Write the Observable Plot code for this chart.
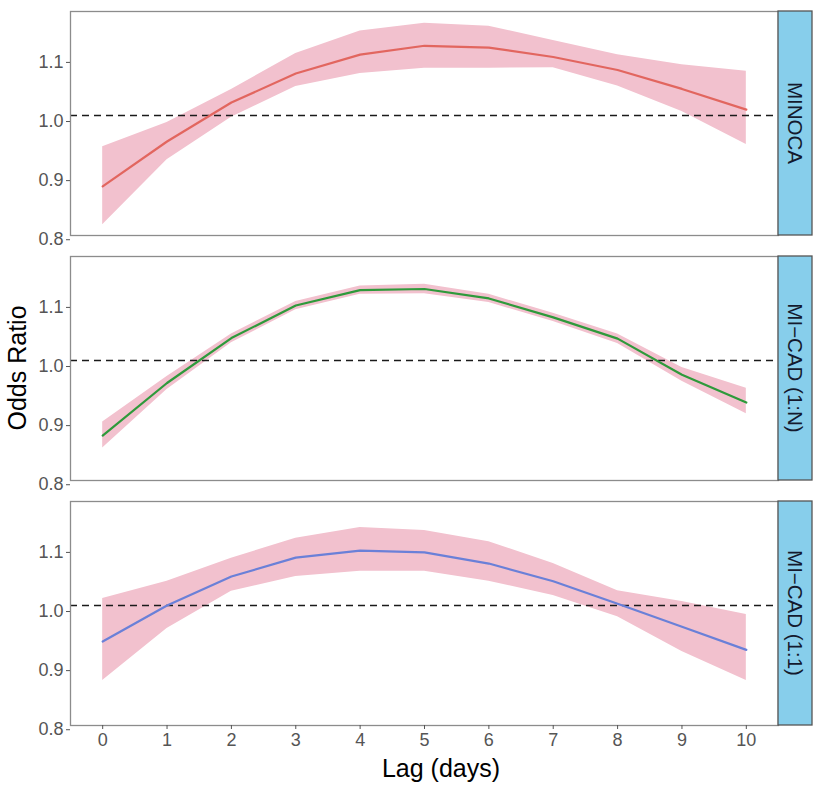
<!DOCTYPE html>
<html>
<head>
<meta charset="utf-8">
<script src="https://cdn.jsdelivr.net/npm/d3@7"></script>
<script src="https://cdn.jsdelivr.net/npm/@observablehq/plot@0.6"></script>
<style>
  body { margin: 0; background: #fff; }
  #chart svg { display: block; }
</style>
</head>
<body>
<div id="chart"></div>
<script>
// ---- data ----
const lags = [0, 1, 2, 3, 4, 5, 6, 7, 8, 9, 10];
const groups = ["MINOCA", "MI\u2212CAD (1:N)", "MI\u2212CAD (1:1)"];
const lineColors = ["#e2665f", "#2e9a3b", "#6a80d8"];
const yTicks = [0.8, 0.9, 1.0, 1.1];

const minocaOR = [0.880, 0.956, 1.022, 1.071, 1.103, 1.118, 1.115, 1.099, 1.077, 1.045, 1.010];
const minocaLo = [0.815, 0.925, 0.997, 1.049, 1.071, 1.080, 1.080, 1.081, 1.050, 1.007, 0.951];
const minocaHi = [0.947, 0.988, 1.044, 1.105, 1.143, 1.156, 1.151, 1.127, 1.103, 1.086, 1.075];

const ncadOR = [0.873, 0.962, 1.038, 1.093, 1.119, 1.121, 1.105, 1.073, 1.037, 0.976, 0.929];
const ncadLo = [0.852, 0.951, 1.030, 1.086, 1.112, 1.113, 1.098, 1.066, 1.029, 0.965, 0.910];
const ncadHi = [0.896, 0.973, 1.045, 1.100, 1.126, 1.129, 1.112, 1.080, 1.045, 0.988, 0.953];

const cad11OR = [0.939, 1.000, 1.049, 1.081, 1.093, 1.090, 1.071, 1.041, 1.003, 0.964, 0.925];
const cad11Lo = [0.873, 0.961, 1.024, 1.049, 1.058, 1.058, 1.041, 1.017, 0.981, 0.922, 0.873];
const cad11Hi = [1.012, 1.041, 1.080, 1.114, 1.132, 1.127, 1.108, 1.071, 1.025, 1.007, 0.985];

const ors = [minocaOR, ncadOR, cad11OR];
const los = [minocaLo, ncadLo, cad11Lo];
const his = [minocaHi, ncadHi, cad11Hi];

const rows = [];
groups.forEach((g, i) => lags.forEach((l, j) => rows.push({
  group: g, lag: l, or: ors[i][j], lo: los[i][j], hi: his[i][j]
})));

const font = "'Liberation Sans', Arial, Helvetica, sans-serif";

const plot = Plot.plot({
  width: 821,
  height: 785,
  marginTop: 10,
  marginBottom: 58,
  marginLeft: 70,
  marginRight: 43,
  style: { fontFamily: font, background: "#fff", overflow: "visible" },
  x: { domain: [-0.5, 10.5], label: null },
  y: { domain: [0.797, 1.176], label: null },
  fy: { domain: groups, paddingInner: 0.085, paddingOuter: 0, axis: null, label: null },
  color: { domain: groups, range: lineColors },
  marks: [
    Plot.areaY(rows, { x: "lag", y1: "lo", y2: "hi", fy: "group", fill: "#f2c1ce" }),
    Plot.ruleY([1], { stroke: "#1a1a1a", strokeWidth: 1.6, strokeDasharray: "7,5" }),
    Plot.lineY(rows, { x: "lag", y: "or", fy: "group", stroke: "group", strokeWidth: 2.2 }),
    Plot.frame({ stroke: "#8c8c8c", strokeWidth: 1.3 }),
    Plot.axisY({ ticks: yTicks, tickFormat: d3.format(".1f"), tickSize: 4, tickPadding: 3,
      fontSize: 18, color: "#555", dy: 6, label: null }),
    Plot.axisX({ ticks: lags, tickFormat: d3.format("d"), tickSize: 4, tickPadding: 4,
      fontSize: 18, color: "#555", label: null })
  ]
});

document.getElementById("chart").appendChild(plot);

// facet strips on the right, positioned from the plot's own scales
const svg = d3.select(plot);
const fy = plot.scale("fy");
const xs = plot.scale("x");
const stripX = xs.apply(10.5);
const stripW = 34;
const bw = fy.bandwidth;
const strips = svg.append("g");
groups.forEach(g => {
  const y0 = fy.apply(g);
  strips.append("rect")
    .attr("x", stripX).attr("y", y0)
    .attr("width", stripW).attr("height", bw)
    .attr("fill", "#87ceeb").attr("stroke", "#555").attr("stroke-width", 1.3);
  strips.append("text")
    .attr("transform", `translate(${stripX + stripW / 2},${y0 + bw / 2}) rotate(90)`)
    .attr("text-anchor", "middle").attr("dy", "0.36em")
    .attr("font-family", font).attr("font-size", 20.5).attr("fill", "#141a2e")
    .text(g);
});

// axis titles
const yTop = fy.apply(groups[0]);
const yBot = fy.apply(groups[groups.length - 1]) + bw;
svg.append("text")
  .attr("transform", `translate(26,${(yTop + yBot) / 2}) rotate(-90)`)
  .attr("text-anchor", "middle")
  .attr("font-family", font).attr("font-size", 25).attr("fill", "#000")
  .text("Odds Ratio");
svg.append("text")
  .attr("x", (xs.apply(-0.5) + xs.apply(10.5)) / 2 + 17).attr("y", 777)
  .attr("text-anchor", "middle")
  .attr("font-family", font).attr("font-size", 25).attr("fill", "#000")
  .text("Lag (days)");
</script>
</body>
</html>
